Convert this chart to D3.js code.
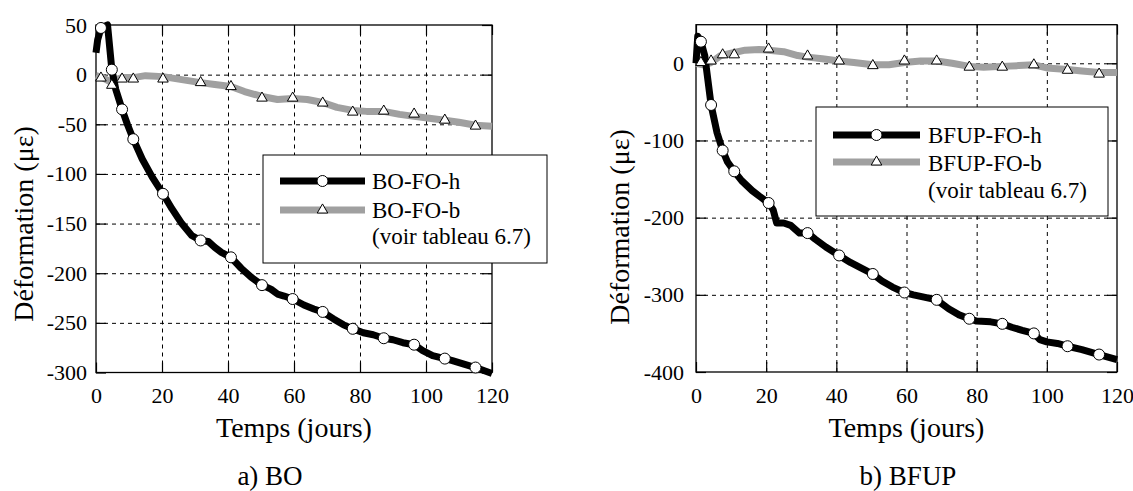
<!DOCTYPE html>
<html>
<head>
<meta charset="utf-8">
<script src="https://d3js.org/d3.v7.min.js"></script>
<style>
  body { margin: 0; background: #fff; }
  text { font-family: "Liberation Serif", "Times New Roman", serif; fill: #000; }
</style>
</head>
<body>
<script>
// ---- data (a) BO ----
var boHDays = [0, 0.5, 1.5, 3.5, 4.8, 6, 7.9, 9.5, 11.3, 14, 17, 20.3, 23, 26, 29, 31.7, 34, 36, 38, 40.9, 44, 47, 50.3, 53, 55, 57, 59.6, 63, 66, 68.7, 72, 75, 77.8, 81, 84, 87.2, 90, 93, 96.4, 99, 102, 105.7, 108, 112, 115, 120];
var boHVals = [22, 35, 47, 50, 5, -15, -35, -50, -65, -85, -103, -120, -135, -150, -162, -167, -168, -174, -179, -184, -195, -204, -212, -216, -221, -223, -226, -232, -236, -239, -246, -252, -256, -260, -262, -265.5, -267, -270, -272, -278, -283, -286, -288, -292, -295, -301];
var boHMarkDays = [1.5, 4.8, 7.9, 11.3, 20.3, 31.7, 40.9, 50.3, 59.6, 68.7, 77.8, 87.2, 96.4, 105.7, 115];
var boHMarkVals = [47, 5, -35, -65, -120, -167, -184, -212, -226, -239, -256, -265.5, -272, -286, -295];

var boBDays = [0, 2, 4.8, 6, 8, 11.3, 15, 20.3, 26, 31.7, 36, 40.9, 45, 50.3, 55, 59.6, 64, 68.7, 73, 77.8, 82, 87.2, 92, 96.4, 101, 105.7, 110, 115, 120];
var boBVals = [-1, -3, -8, -5, -3, -3, -1, -2, -5, -8, -10, -12, -17, -22, -25, -24, -25, -28, -33, -36, -37, -37, -40, -42, -44, -46, -48, -51, -52];
var boBMarkDays = [1.5, 4.8, 7.9, 11.3, 20.3, 31.7, 40.9, 50.3, 59.6, 68.7, 77.8, 87.2, 96.4, 105.7, 115];
var boBMarkVals = [-3.4, -10.7, -4.4, -4.4, -4.4, -8, -12, -23.6, -23.6, -28.6, -37.7, -36.7, -39.7, -45.8, -51.8];

// ---- data (b) BFUP ----
var bfHDays = [0, 0.5, 1.4, 2.5, 4.3, 6, 7.6, 9, 10.9, 13, 16, 18, 20.7, 22, 23, 25, 27, 29.5, 31.8, 34, 37, 40.8, 44, 47, 50.4, 53, 56, 59.4, 62, 65, 68.6, 72, 75, 77.9, 80, 84, 87.3, 90, 93, 96.3, 98, 100, 103, 105.9, 110, 114.9, 120];
var bfHVals = [0, 35, 28, 10, -54, -90, -113, -128, -140, -152, -165, -172, -181, -190, -207, -207, -210, -220, -220, -228, -238, -249, -258, -265, -273, -282, -290, -297, -300, -303, -306.5, -318, -326, -331, -334, -335, -337.6, -342, -346, -350, -358, -361, -363, -366.6, -371, -377.4, -384];
var bfHMarkDays = [1.4, 4.3, 7.6, 10.9, 20.7, 31.8, 40.8, 50.4, 59.4, 68.6, 77.9, 87.3, 96.3, 105.9, 114.9];
var bfHMarkVals = [28, -54, -113, -140, -181, -220, -249, -273, -297, -306.5, -331, -337.6, -350, -366.6, -377.4];

var bfBDays = [0, 2, 4.3, 7, 10, 14, 18, 20.7, 25, 29, 31.8, 36, 40.8, 45, 50.4, 55, 59.4, 64, 68.6, 73, 77.9, 82, 87.3, 92, 96.3, 100, 105.9, 110, 114.9, 120];
var bfBVals = [0, -2, 1, 10, 13, 17, 18, 17, 15, 10, 8, 6, 3, 1, -2, -2, 1, 3, 3, 0, -4, -5, -4, -3, -2, -6, -8, -10, -12, -12];
var bfBMarkDays = [1.4, 4.3, 7.6, 10.9, 20.7, 31.8, 40.8, 50.4, 59.4, 68.6, 77.9, 87.3, 96.3, 105.9, 114.9];
var bfBMarkVals = [1, 3, 11, 11, 18.5, 9.5, 3, -3, 3, 3, -5, -5, -2, -9, -14];

var xTicks = [0, 20, 40, 60, 80, 100, 120];
var yTicksBO = [50, 0, -50, -100, -150, -200, -250, -300];
var yTicksBF = [0, -100, -200, -300, -400];

var FONT = "'Liberation Serif', 'Times New Roman', serif";
var W = 1133, H = 491;
var svg = d3.select("body").append("svg").attr("width", W).attr("height", H);

function zip(a, b) { return a.map(function (d, i) { return [d, b[i]]; }); }
function plain(d) { return String(d); }   // keep ascii hyphen for negatives

function panel(cfg) {
  var x = d3.scaleLinear().domain([0, 120]).range([cfg.left, cfg.right]);
  var y = d3.scaleLinear().domain(cfg.yDomain).range([cfg.bottom, cfg.top]);
  var g = svg.append("g");
  var iw = cfg.right - cfg.left, ih = cfg.bottom - cfg.top;

  // dashed grid
  g.append("g").attr("transform", "translate(0," + cfg.bottom + ")")
    .call(d3.axisBottom(x).tickValues(xTicks.slice(1, -1)).tickSize(-ih).tickFormat(""))
    .call(function (s) { s.select(".domain").remove(); s.selectAll("line").attr("stroke", "#000").attr("stroke-dasharray", "4,4"); });
  g.append("g").attr("transform", "translate(" + cfg.left + ",0)")
    .call(d3.axisLeft(y).tickValues(cfg.yTicks.filter(function (v) { return v !== cfg.yDomain[0] && v !== cfg.yDomain[1]; })).tickSize(-iw).tickFormat(""))
    .call(function (s) { s.select(".domain").remove(); s.selectAll("line").attr("stroke", "#000").attr("stroke-dasharray", "4,4"); });

  // inward ticks on all sides
  var tk = 10;
  [[d3.axisBottom(x).tickValues(xTicks), "translate(0," + cfg.bottom + ")"],
   [d3.axisTop(x).tickValues(xTicks), "translate(0," + cfg.top + ")"],
   [d3.axisLeft(y).tickValues(cfg.yTicks), "translate(" + cfg.left + ",0)"],
   [d3.axisRight(y).tickValues(cfg.yTicks), "translate(" + cfg.right + ",0)"]].forEach(function (a) {
    g.append("g").attr("transform", a[1]).call(a[0].tickSize(-tk).tickFormat(""))
      .call(function (s) { s.select(".domain").remove(); s.selectAll("line").attr("stroke", "#000").attr("stroke-width", 1.2); });
  });

  // frame
  g.append("rect").attr("x", cfg.left).attr("y", cfg.top).attr("width", iw).attr("height", ih)
    .attr("fill", "none").attr("stroke", "#000").attr("stroke-width", 1.3);

  // tick labels
  g.append("g").attr("transform", "translate(0," + cfg.bottom + ")")
    .call(d3.axisBottom(x).tickValues(xTicks).tickSize(0).tickPadding(15).tickFormat(plain))
    .call(function (s) { s.select(".domain").remove(); s.attr("font-family", FONT).attr("font-size", 22); });
  g.append("g").attr("transform", "translate(" + cfg.left + ",0)")
    .call(d3.axisLeft(y).tickValues(cfg.yTicks).tickSize(0).tickPadding(cfg.yPad).tickFormat(plain))
    .call(function (s) { s.select(".domain").remove(); s.attr("font-family", FONT).attr("font-size", 22); });

  // series
  var line = d3.line().x(function (d) { return x(d[0]); }).y(function (d) { return y(d[1]); });
  g.append("path").datum(zip(cfg.bDays, cfg.bVals)).attr("d", line)
    .attr("fill", "none").attr("stroke", "#a0a0a0").attr("stroke-width", 7).attr("stroke-linejoin", "round");
  g.append("path").datum(zip(cfg.hDays, cfg.hVals)).attr("d", line)
    .attr("fill", "none").attr("stroke", "#000").attr("stroke-width", 7).attr("stroke-linejoin", "round");

  var tri = d3.symbol().type(d3.symbolTriangle).size(48);
  g.selectAll(".tri").data(zip(cfg.bmDays, cfg.bmVals)).enter().append("path")
    .attr("d", tri).attr("transform", function (d) { return "translate(" + x(d[0]) + "," + y(d[1]) + ")"; })
    .attr("fill", "#fff").attr("stroke", "#000").attr("stroke-width", 1);
  g.selectAll(".circ").data(zip(cfg.hmDays, cfg.hmVals)).enter().append("circle")
    .attr("cx", function (d) { return x(d[0]); }).attr("cy", function (d) { return y(d[1]); }).attr("r", 5.5)
    .attr("fill", "#fff").attr("stroke", "#000").attr("stroke-width", 1);

  // axis titles
  g.append("text").attr("x", (cfg.left + cfg.right) / 2).attr("y", 437).attr("text-anchor", "middle")
    .style("font-size", "28px").text("Temps (jours)");
  g.append("text").attr("transform", "translate(" + cfg.yTitleX + "," + cfg.yTitleY + ") rotate(-90)")
    .attr("text-anchor", "middle").style("font-size", "28px").text("Déformation (με)");
  g.append("text").attr("x", cfg.subX).attr("y", 485).attr("text-anchor", "middle")
    .style("font-size", "27px").text(cfg.sub);

  // legend
  var L = cfg.legend;
  g.append("rect").attr("x", L.x0).attr("y", L.y0).attr("width", L.x1 - L.x0).attr("height", L.y1 - L.y0)
    .attr("fill", "#fff").attr("stroke", "#000").attr("stroke-width", 1);
  g.append("line").attr("x1", L.lx0).attr("x2", L.lx1).attr("y1", L.r1).attr("y2", L.r1)
    .attr("stroke", "#000").attr("stroke-width", 7);
  g.append("circle").attr("cx", (L.lx0 + L.lx1) / 2).attr("cy", L.r1).attr("r", 5.5)
    .attr("fill", "#fff").attr("stroke", "#000");
  g.append("line").attr("x1", L.lx0).attr("x2", L.lx1).attr("y1", L.r2).attr("y2", L.r2)
    .attr("stroke", "#a0a0a0").attr("stroke-width", 7);
  g.append("path").attr("d", tri).attr("transform", "translate(" + (L.lx0 + L.lx1) / 2 + "," + L.r2 + ")")
    .attr("fill", "#fff").attr("stroke", "#000");
  L.labels.forEach(function (t, i) {
    g.append("text").attr("x", L.tx).attr("y", L.base[i]).style("font-size", "23px").text(t);
  });
}

panel({
  left: 96, right: 492, top: 25, bottom: 372.5, yDomain: [-300, 50], yTicks: yTicksBO, yPad: 9,
  hDays: boHDays, hVals: boHVals, hmDays: boHMarkDays, hmVals: boHMarkVals,
  bDays: boBDays, bVals: boBVals, bmDays: boBMarkDays, bmVals: boBMarkVals,
  yTitleX: 33, yTitleY: 224, subX: 270, sub: "a) BO",
  legend: { x0: 263, x1: 547, y0: 155, y1: 263, lx0: 280, lx1: 365, r1: 181, r2: 210, tx: 372,
            base: [189, 218, 244], labels: ["BO-FO-h", "BO-FO-b", "(voir tableau 6.7)"] }
});

panel({
  left: 696, right: 1117, top: 24.7, bottom: 372, yDomain: [-400, 50], yTicks: yTicksBF, yPad: 12,
  hDays: bfHDays, hVals: bfHVals, hmDays: bfHMarkDays, hmVals: bfHMarkVals,
  bDays: bfBDays, bVals: bfBVals, bmDays: bfBMarkDays, bmVals: bfBMarkVals,
  yTitleX: 629, yTitleY: 227, subX: 908, sub: "b) BFUP",
  legend: { x0: 816, x1: 1108, y0: 107, y1: 216, lx0: 833, lx1: 920, r1: 135, r2: 162, tx: 928,
            base: [143, 171, 198], labels: ["BFUP-FO-h", "BFUP-FO-b", "(voir tableau 6.7)"] }
});
</script>
</body>
</html>
